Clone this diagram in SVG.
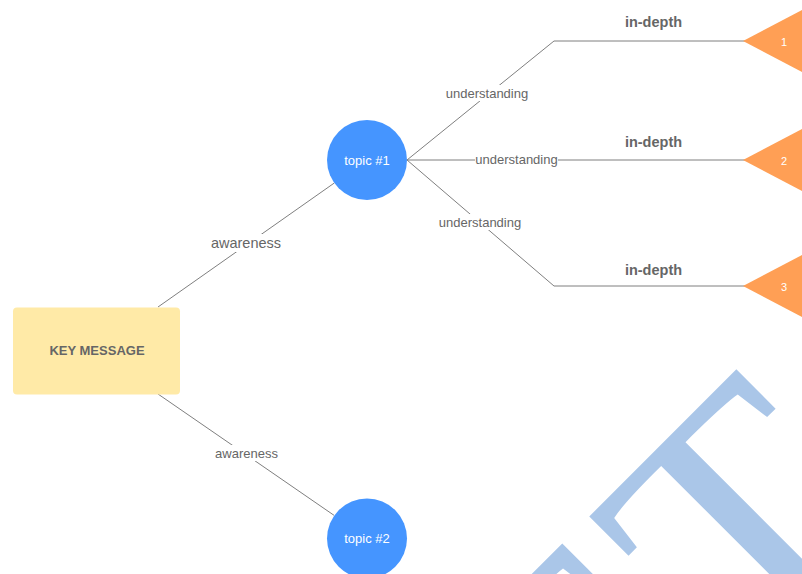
<svg xmlns="http://www.w3.org/2000/svg" width="802" height="574" viewBox="0 0 802 574">
<style>
.ln{stroke:#7f7f7f;stroke-width:1;fill:none}
.lbl{font-family:"Liberation Sans",Arial,sans-serif;fill:#666;text-anchor:middle;dominant-baseline:central}
.bg{fill:#fff}
.tri{fill:#ff9f55}
.circ{fill:#4595ff}
.wt{font-family:"Liberation Sans",Arial,sans-serif;fill:#fff;text-anchor:middle;dominant-baseline:central}
.wm{font-family:"Liberation Serif","Times New Roman",serif;font-size:361px;fill:#aac6e8}
</style>
<rect width="802" height="574" fill="#fff"/>
<g id="watermark" transform="translate(751.8,688.2) rotate(-45)">
<text class="wm" x="-18.6" y="0" text-anchor="end">DRAF</text>
<text class="wm" x="0" y="0">T</text>
</g>
<g id="connectors">
<line class="ln" x1="158" y1="307" x2="334.3" y2="183"/>
<line class="ln" x1="158" y1="394" x2="334" y2="515.3"/>
<polyline class="ln" points="407,160 554,41 745,41"/>
<line class="ln" x1="407" y1="160" x2="745" y2="160"/>
<polyline class="ln" points="407,160 554,286 745,286"/>
<rect class="bg" x="209" y="234" width="74" height="18"/>
<text class="lbl" x="246" y="243" font-size="14.5">awareness</text>
<rect class="bg" x="213" y="445" width="67" height="16"/>
<text class="lbl" x="246.5" y="453" font-size="13">awareness</text>
<rect class="bg" x="444" y="85" width="86" height="16"/>
<text class="lbl" x="487" y="93" font-size="13">understanding</text>
<rect class="bg" x="475" y="151" width="83" height="16"/>
<text class="lbl" x="516.5" y="159" font-size="13">understanding</text>
<rect class="bg" x="437" y="214" width="86" height="16"/>
<text class="lbl" x="480" y="222" font-size="13">understanding</text>
<text class="lbl" x="653.5" y="22" font-size="14.5" font-weight="bold">in-depth</text>
<text class="lbl" x="653.5" y="142" font-size="14.5" font-weight="bold">in-depth</text>
<text class="lbl" x="653.5" y="270" font-size="14.5" font-weight="bold">in-depth</text>
</g>
<g id="key-message">
<rect x="13" y="307.5" width="167" height="87" rx="4" fill="#ffeaa7"/>
<text class="lbl" x="97" y="350.5" font-size="13" font-weight="bold">KEY MESSAGE</text>
</g>
<g id="topic-1">
<circle class="circ" cx="367" cy="160" r="40"/>
<text class="wt" x="367" y="160" font-size="13">topic #1</text>
</g>
<g id="topic-2">
<circle class="circ" cx="367" cy="538.5" r="40"/>
<text class="wt" x="367" y="538.5" font-size="13">topic #2</text>
</g>
<g id="depth-1">
<polygon class="tri" points="743,41 830,-4.7 830,86.7"/>
<text class="wt" x="784" y="42" font-size="11">1</text>
</g>
<g id="depth-2">
<polygon class="tri" points="743,160 830,114.3 830,205.7"/>
<text class="wt" x="784" y="161" font-size="11">2</text>
</g>
<g id="depth-3">
<polygon class="tri" points="743,286 830,240.3 830,331.7"/>
<text class="wt" x="784" y="287" font-size="11">3</text>
</g>
</svg>
